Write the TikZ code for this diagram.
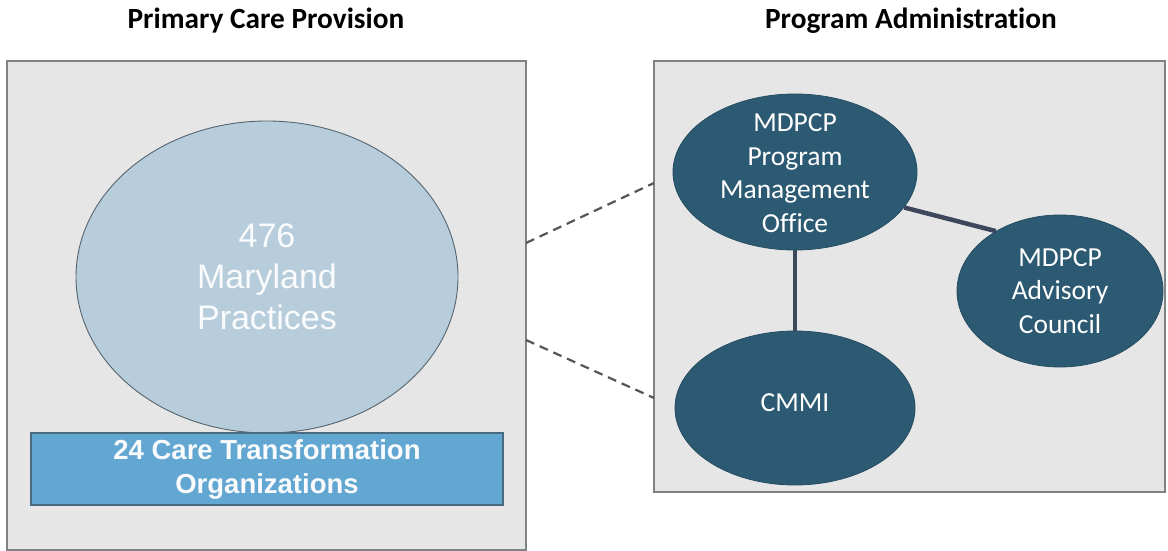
\documentclass[tikz,border=0pt]{standalone}
\usepackage{fontspec}
\setmainfont{Carlito}[Ligatures=NoCommon]
\newfontfamily\arialfont{Liberation Sans}
\usetikzlibrary{shapes.geometric}
\usepackage{xcolor}
\definecolor{panelfill}{HTML}{E6E6E6}
\definecolor{panelline}{HTML}{7D8284}
\definecolor{practicefill}{HTML}{B8CDDC}
\definecolor{practiceline}{HTML}{55646E}
\definecolor{ctofill}{HTML}{62A6D2}
\definecolor{ctoline}{HTML}{4A6A80}
\definecolor{hubfill}{HTML}{2C5A72}
\definecolor{linkcolor}{HTML}{3D475B}
\definecolor{dashcolor}{HTML}{555555}

\begin{document}
\begin{tikzpicture}
[x=1pt, y=-1pt,
every node/.style = {align=center}]
\tikzstyle{panel} = [rectangle, draw=panelline, fill=panelfill, line width=1.3pt, inner sep=0pt]
\tikzstyle{heading} = [font=\bfseries\fontsize{29.3}{33}\selectfont, text=black]
\tikzstyle{practice} = [ellipse, draw=practiceline, fill=practicefill, line width=0.9pt, inner sep=0pt,
  text=white!92!practicefill, font=\arialfont\fontsize{34}{41}\selectfont]
\tikzstyle{cto} = [rectangle, draw=ctoline, fill=ctofill, line width=1.3pt, inner sep=0pt,
  text=white!96!ctofill, font=\arialfont\bfseries\fontsize{27.5}{34}\selectfont]
\tikzstyle{hub} = [ellipse, fill=hubfill, draw=hubfill!85!black, line width=0.8pt, inner sep=0pt]
\tikzstyle{hubtext} = [text=white, font=\fontsize{27.5}{33.5}\selectfont, inner sep=0pt]
\tikzstyle{link} = [draw=linkcolor, line width=4.5pt]
\tikzstyle{relation} = [draw=dashcolor, line width=2.2pt, dash pattern=on 9pt off 6pt]

\useasboundingbox (0,0) rectangle (1168,551);

\node[heading] (care-title) at (266,21) {Primary Care Provision};
\node[heading] (admin-title) at (911,21) {Program Administration};

\node[panel, minimum width=519pt, minimum height=489pt] (care) at (266.5,305.5) {};
\node[panel, minimum width=511pt, minimum height=431pt] (admin) at (909.5,276.5) {};

\node[practice, minimum width=382pt, minimum height=312pt] (practices) at (267,277)
  {476\\Maryland\\Practices};
\node[cto, minimum width=472pt, minimum height=72pt] (cto) at (267,469)
  {24 Care Transformation\\Organizations};

\node[hub, minimum width=244pt, minimum height=156pt] (pmo) at (795,172) {};
\node[hub, minimum width=240pt, minimum height=154pt] (cmmi) at (795,408) {};
\node[hub, minimum width=206pt, minimum height=152pt] (council) at (1060,291) {};

\node[hubtext] (pmo-text) at (795,173) {MDPCP\\Program\\Management\\Office};
\node[hubtext] (cmmi-text) at (795,403) {CMMI};
\node[hubtext] (council-text) at (council) {MDPCP\\Advisory\\Council};

\draw[link] (pmo.south) -- (cmmi.north);
\draw[link] (pmo.-18) -- (council.137);

\coordinate (care-up) at (526,243);
\coordinate (care-down) at (526,340);
\coordinate (admin-up) at (654,183);
\coordinate (admin-down) at (654,398);
\draw[relation] (care-up) -- (admin-up);
\draw[relation] (care-down) -- (admin-down);

\end{tikzpicture}
\end{document}
